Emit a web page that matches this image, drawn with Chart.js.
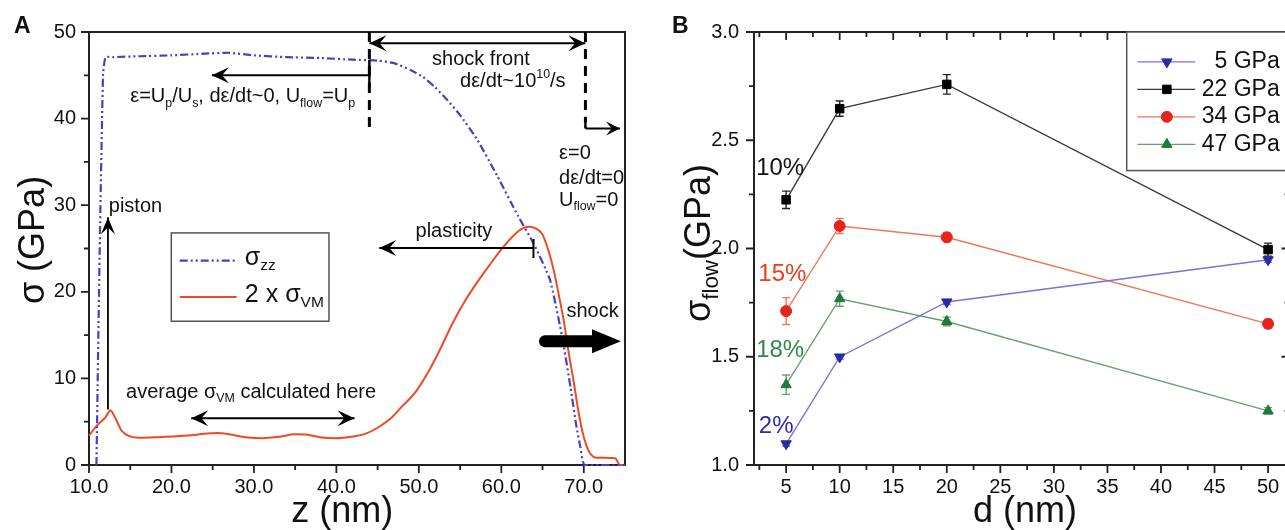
<!DOCTYPE html>
<html>
<head>
<meta charset="utf-8">
<script src="https://cdn.jsdelivr.net/npm/chart.js@4.4.1/dist/chart.umd.min.js"></script>
<style>
  html, body { margin: 0; padding: 0; background: #fff; overflow: hidden; }
  #wrap { position: relative; width: 1285px; height: 530px; overflow: hidden; }
  #pa { position: absolute; left: 0; top: 0; }
  #pb { position: absolute; left: 640px; top: 0; }
</style>
</head>
<body>
<div id="wrap">
  <canvas id="pa" width="640" height="530"></canvas>
  <canvas id="pb" width="700" height="530"></canvas>
</div>
<script>
const FONT = '"Liberation Sans", Arial, Helvetica, sans-serif';

// ---- panel A : stress profiles ----
const zZZ = [10.9, 11.3, 11.7, 12.0, 13, 16, 20, 24, 27, 30, 34, 38, 42, 45, 47, 49, 50.5, 52, 53.5, 55, 57, 59.5, 62, 63.9, 65.9, 67.4, 68.4, 69.1, 69.6, 70.1, 75];
const sigmaZZ = [0, 25, 45, 47.1, 47.1, 47.2, 47.3, 47.5, 47.6, 47.3, 47.1, 47.0, 46.8, 46.7, 46.4, 45.6, 44.8, 43.6, 42.1, 40.4, 37.7, 33.4, 28.8, 25.6, 21.4, 14.7, 8.9, 4.5, 2.0, 0, 0];

const zVM = [10, 11, 12, 12.6, 13.2, 14, 15, 16, 18, 20, 22, 24, 25.5, 27, 29, 31, 33, 35, 36.5, 38, 40, 42, 43.5, 45, 46.5, 48, 49.5, 51, 52.5, 54, 55.5, 57, 58.5, 60, 61.5, 62.5, 63.4, 64.2, 65.0, 65.8, 66.4, 67.0, 67.6, 68.2, 68.8, 69.3, 69.8, 70.3, 70.8, 71.5, 73.8, 74.4, 75];
const sigmaVM2 = [3.4, 4.6, 5.5, 6.3, 5.4, 3.9, 3.3, 3.15, 3.2, 3.3, 3.4, 3.6, 3.7, 3.55, 3.2, 3.1, 3.25, 3.55, 3.5, 3.2, 3.1, 3.3, 3.6, 4.3, 5.3, 6.8, 8.3, 10.5, 13.2, 16.2, 18.8, 21.0, 23.0, 24.9, 26.5, 27.3, 27.5, 27.3, 26.6, 24.5, 22.3, 19.5, 16.5, 12.8, 9.5, 6.5, 4.0, 2.3, 1.3, 0.85, 0.77, 0, 0];

const xTicksA = [10, 20, 30, 40, 50, 60, 70];
const xMinorA = [15, 25, 35, 45, 55, 65];
const yTicksA = [0, 10, 20, 30, 40, 50];
const yMinorA = [5, 15, 25, 35, 45];

// ---- panel B : flow stress vs grain size ----
const dNm = [5, 10, 20, 50];
const flow5 = [1.098, 1.499, 1.753, 1.948];
const err5 = [0.01, 0.01, 0.012, 0.012];
const flow22 = [2.225, 2.646, 2.758, 1.995];
const err22 = [0.04, 0.035, 0.045, 0.03];
const flow34 = [1.711, 2.104, 2.052, 1.652];
const err34 = [0.062, 0.035, 0.02, 0.02];
const flow47 = [1.371, 1.768, 1.663, 1.25];
const err47 = [0.045, 0.035, 0.02, 0.015];
const seriesNames = ['5 GPa', '22 GPa', '34 GPa', '47 GPa'];
const strainLabels = ['2%', '10%', '15%', '18%'];

const xTicksB = [5, 10, 15, 20, 25, 30, 35, 40, 45, 50];
const xMinorB = [2.5, 7.5, 12.5, 17.5, 22.5, 27.5, 32.5, 37.5, 42.5, 47.5];
const yTicksB = [1.0, 1.5, 2.0, 2.5, 3.0];
const yMinorB = [1.25, 1.75, 2.25, 2.75];

// ---------- helpers ----------
function rich(ctx, parts, x, y, size, align, color) {
  ctx.save();
  ctx.fillStyle = color || '#111';
  ctx.textBaseline = 'middle';
  ctx.textAlign = 'left';
  let w = 0;
  parts.forEach(p => {
    ctx.font = `${p[1] ? size * 0.62 : size}px ${FONT}`;
    w += ctx.measureText(p[0]).width;
  });
  let cx = align === 'center' ? x - w / 2 : align === 'right' ? x - w : x;
  parts.forEach(p => {
    const s = p[1] ? size * 0.62 : size;
    ctx.font = `${s}px ${FONT}`;
    const dy = p[1] === 1 ? size * 0.32 : p[1] === 2 ? -size * 0.36 : 0;
    ctx.fillText(p[0], cx, y + dy);
    cx += ctx.measureText(p[0]).width;
  });
  ctx.restore();
}

function head(ctx, x, y, ang, len, half) {
  ctx.save();
  ctx.translate(x, y);
  ctx.rotate(ang);
  ctx.beginPath();
  ctx.moveTo(0, 0);
  ctx.lineTo(-len, -half);
  ctx.lineTo(-len * 0.6, 0);
  ctx.lineTo(-len, half);
  ctx.closePath();
  ctx.fill();
  ctx.restore();
}

function arrow(ctx, x1, y1, x2, y2, both, lw, len, half) {
  ctx.save();
  ctx.strokeStyle = '#000';
  ctx.fillStyle = '#000';
  ctx.lineWidth = lw;
  ctx.beginPath();
  ctx.moveTo(x1, y1);
  ctx.lineTo(x2, y2);
  ctx.stroke();
  const a = Math.atan2(y2 - y1, x2 - x1);
  head(ctx, x2, y2, a, len, half);
  if (both) head(ctx, x1, y1, a + Math.PI, len, half);
  ctx.restore();
}

function frameAndTicks(chart, c) {
  const { ctx, chartArea: a, scales: { x, y } } = chart;
  ctx.save();
  ctx.strokeStyle = '#222';
  ctx.lineWidth = 2;
  ctx.strokeRect(a.left, a.top, a.right - a.left, a.bottom - a.top);
  ctx.lineWidth = 1.8;
  ctx.beginPath();
  const xt = (vals, len) => vals.forEach(v => {
    const px = x.getPixelForValue(v);
    ctx.moveTo(px, a.bottom); ctx.lineTo(px, a.bottom + len);
    if (c.mirror) { ctx.moveTo(px, a.top); ctx.lineTo(px, a.top + len); }
  });
  const yt = (vals, len) => vals.forEach(v => {
    const py = y.getPixelForValue(v);
    ctx.moveTo(a.left, py); ctx.lineTo(a.left - len, py);
    if (c.mirror) { ctx.moveTo(a.right, py); ctx.lineTo(a.right - len, py); }
  });
  xt(c.xMajor, 8); xt(c.xMinor, 5);
  yt(c.yMajor, 8); yt(c.yMinor, 5);
  ctx.stroke();
  ctx.restore();
}

// ---------- panel A ----------
const panelA = {
  id: 'panelA',
  beforeDatasetsDraw(chart) {
    frameAndTicks(chart, { xMajor: xTicksA, xMinor: xMinorA, yMajor: yTicksA, yMinor: yMinorA, mirror: false });
  },
  afterDraw(chart) {
    const { ctx, chartArea: a, scales: { x, y } } = chart;
    const X = v => x.getPixelForValue(v), Y = v => y.getPixelForValue(v);

    ctx.save();
    ctx.fillStyle = '#111';
    ctx.font = `bold 23px ${FONT}`;
    ctx.textBaseline = 'alphabetic';
    ctx.fillText('A', 14, 33);
    ctx.restore();

    // axis titles
    rich(ctx, [['z (nm)', 0]], X(40.7), 512, 36, 'center');
    ctx.save();
    ctx.translate(34, 240);
    ctx.rotate(-Math.PI / 2);
    rich(ctx, [['σ (GPa)', 0]], 0, 0, 36, 'center');
    ctx.restore();

    // legend box
    ctx.save();
    ctx.strokeStyle = '#555';
    ctx.lineWidth = 1.5;
    ctx.fillStyle = '#fff';
    const lx1 = X(19.98), lx2 = X(39.1), ly1 = Y(26.8), ly2 = Y(16.6);
    ctx.fillRect(lx1, ly1, lx2 - lx1, ly2 - ly1);
    ctx.strokeRect(lx1, ly1, lx2 - lx1, ly2 - ly1);
    ctx.lineWidth = 2.2;
    ctx.strokeStyle = '#4b3fbf';
    ctx.setLineDash([8, 3, 2, 3, 2, 3]);
    ctx.beginPath(); ctx.moveTo(X(21), Y(23.6)); ctx.lineTo(X(27.9), Y(23.6)); ctx.stroke();
    ctx.setLineDash([]);
    ctx.strokeStyle = '#ee4a23';
    ctx.lineWidth = 2;
    ctx.beginPath(); ctx.moveTo(X(21), Y(19.4)); ctx.lineTo(X(27.9), Y(19.4)); ctx.stroke();
    ctx.restore();
    rich(ctx, [['σ', 0], ['zz', 1]], X(28.9), Y(23.6) - 3, 25, 'left');
    rich(ctx, [['2 x σ', 0], ['VM', 1]], X(28.9), Y(19.4) - 2, 25, 'left');

    // top: shock front region
    ctx.save();
    ctx.strokeStyle = '#000';
    ctx.lineWidth = 3;
    ctx.setLineDash([10, 7]);
    ctx.beginPath();
    ctx.moveTo(X(44), Y(50)); ctx.lineTo(X(44), Y(38.9));
    ctx.moveTo(X(70.2), Y(50)); ctx.lineTo(X(70.2), Y(39.6));
    ctx.stroke();
    ctx.setLineDash([]);
    ctx.lineWidth = 2.5;
    ctx.beginPath();
    ctx.moveTo(X(44), Y(46.8)); ctx.lineTo(X(44), Y(43.6));
    ctx.moveTo(X(70.2), Y(40.2)); ctx.lineTo(X(70.2), Y(38.85));
    ctx.stroke();
    ctx.restore();
    arrow(ctx, X(44), Y(48.7), X(70.2), Y(48.7), true, 2, 17, 8);
    arrow(ctx, X(44), Y(45.0), X(24.9), Y(45.0), false, 2, 17, 8);
    arrow(ctx, X(70.2), Y(38.85), X(74.4), Y(38.85), false, 2, 14, 7);

    rich(ctx, [['shock front', 0]], X(51.6), Y(46.8), 20, 'left');
    rich(ctx, [['dε/dt~10', 0], ['10', 2], ['/s', 0]], X(55.0), Y(44.3), 20, 'left');
    rich(ctx, [['ε=U', 0], ['p', 1], ['/U', 0], ['s', 1], [', dε/dt~0, U', 0], ['flow', 1], ['=U', 0], ['p', 1]], X(15.0), Y(42.5), 20, 'left');
    rich(ctx, [['ε=0', 0]], X(67.0), Y(36.0), 20, 'left');
    rich(ctx, [['dε/dt=0', 0]], X(67.0), Y(33.1), 20, 'left');
    rich(ctx, [['U', 0], ['flow', 1], ['=0', 0]], X(67.0), Y(30.3) - 2, 20, 'left');

    // piston
    arrow(ctx, X(12.3), Y(6.4), X(12.3), Y(28.6), false, 1.8, 17, 7);
    rich(ctx, [['piston', 0]], X(12.4), Y(29.9), 20, 'left');

    // averaging window
    rich(ctx, [['average σ', 0], ['VM', 1], [' calculated here', 0]], X(14.5), Y(8.4), 20, 'left');
    arrow(ctx, X(22.4), Y(5.4), X(42.2), Y(5.4), true, 2, 17, 8);

    // plasticity
    rich(ctx, [['plasticity', 0]], X(49.6), Y(27.0), 20, 'left');
    arrow(ctx, X(63.9), Y(25.06), X(45.2), Y(25.06), false, 2, 17, 8);
    ctx.save();
    ctx.lineWidth = 2;
    ctx.beginPath(); ctx.moveTo(X(63.9), Y(26.1)); ctx.lineTo(X(63.9), Y(23.9)); ctx.stroke();
    ctx.restore();

    // shock
    rich(ctx, [['shock', 0]], X(67.9), Y(17.7), 20, 'left');
    ctx.save();
    ctx.strokeStyle = '#000';
    ctx.fillStyle = '#000';
    ctx.lineWidth = 12;
    ctx.lineCap = 'round';
    ctx.beginPath(); ctx.moveTo(X(65.3), Y(14.3)); ctx.lineTo(X(71.6), Y(14.3)); ctx.stroke();
    ctx.beginPath();
    ctx.moveTo(X(74.5), Y(14.3));
    ctx.lineTo(X(71.0), Y(14.3) - 12);
    ctx.lineTo(X(71.0), Y(14.3) + 12);
    ctx.closePath();
    ctx.fill();
    ctx.restore();
  }
};

new Chart(document.getElementById('pa'), {
  type: 'line',
  data: {
    datasets: [
      {
        label: 'σzz',
        data: zZZ.map((z, i) => ({ x: z, y: sigmaZZ[i] })),
        borderColor: '#4b3fbf',
        borderWidth: 2.2,
        borderDash: [8, 3, 2, 3, 2, 3],
        pointRadius: 0,
        tension: 0.15,
        clip: false
      },
      {
        label: '2 x σVM',
        data: zVM.map((z, i) => ({ x: z, y: sigmaVM2[i] })),
        borderColor: '#ee4a23',
        borderWidth: 2,
        pointRadius: 0,
        cubicInterpolationMode: 'monotone',
        clip: false
      }
    ]
  },
  options: {
    responsive: false,
    animation: false,
    devicePixelRatio: 1,
    events: [],
    layout: { padding: { top: 32, right: 15, left: 0, bottom: 0 } },
    plugins: { legend: { display: false }, tooltip: { enabled: false } },
    scales: {
      x: {
        type: 'linear', min: 10, max: 75,
        afterFit: s => { s.height = 65; },
        afterBuildTicks: s => { s.ticks = xTicksA.map(v => ({ value: v })); },
        grid: { display: false, drawTicks: false },
        border: { display: false },
        ticks: { padding: 10, autoSkip: false, maxRotation: 0, color: '#111', font: { family: FONT, size: 20 }, callback: v => Number(v).toFixed(1) }
      },
      y: {
        type: 'linear', min: 0, max: 50,
        afterFit: s => { s.width = 89; },
        afterBuildTicks: s => { s.ticks = yTicksA.map(v => ({ value: v })); },
        grid: { display: false, drawTicks: false },
        border: { display: false },
        ticks: { padding: 13, autoSkip: false, color: '#111', font: { family: FONT, size: 20 }, callback: v => String(v) }
      }
    }
  },
  plugins: [panelA]
});

// ---------- panel B ----------
const seriesB = [
  { name: seriesNames[0], vals: flow5, err: err5, line: '#7a72d8', mark: '#2c2aa0', style: 'triangle', rot: 180, r: 6 },
  { name: seriesNames[1], vals: flow22, err: err22, line: '#3a3a3a', mark: '#000000', style: 'rect', rot: 0, r: 6 },
  { name: seriesNames[2], vals: flow34, err: err34, line: '#f07658', mark: '#e8231b', style: 'circle', rot: 0, r: 5.5 },
  { name: seriesNames[3], vals: flow47, err: err47, line: '#6c9e76', mark: '#1e7a3c', style: 'triangle', rot: 0, r: 6 }
];

function point(ctx, s, x, y) {
  ctx.save();
  ctx.fillStyle = s.mark;
  ctx.strokeStyle = s.mark;
  const o = { pointStyle: s.style, rotation: s.rot, radius: s.r, borderWidth: 1 };
  if (Chart.helpers && Chart.helpers.drawPoint) {
    Chart.helpers.drawPoint(ctx, o, x, y);
  } else {
    ctx.beginPath(); ctx.arc(x, y, s.r, 0, Math.PI * 2); ctx.fill();
  }
  ctx.restore();
}

const panelB = {
  id: 'panelB',
  beforeDatasetsDraw(chart) {
    frameAndTicks(chart, { xMajor: xTicksB, xMinor: xMinorB, yMajor: yTicksB, yMinor: yMinorB, mirror: true });
    const { ctx, scales: { x, y } } = chart;
    // error bars
    seriesB.forEach(s => {
      ctx.save();
      ctx.strokeStyle = s.line === '#3a3a3a' ? '#222' : s.line;
      ctx.lineWidth = 1.4;
      ctx.beginPath();
      dNm.forEach((d, i) => {
        const px = x.getPixelForValue(d);
        const top = y.getPixelForValue(s.vals[i] + s.err[i]);
        const bot = y.getPixelForValue(s.vals[i] - s.err[i]);
        ctx.moveTo(px, top); ctx.lineTo(px, bot);
        ctx.moveTo(px - 4, top); ctx.lineTo(px + 4, top);
        ctx.moveTo(px - 4, bot); ctx.lineTo(px + 4, bot);
      });
      ctx.stroke();
      ctx.restore();
    });
  },
  afterDraw(chart) {
    const { ctx, chartArea: a, scales: { x, y } } = chart;
    const X = v => x.getPixelForValue(v), Y = v => y.getPixelForValue(v);

    ctx.save();
    ctx.fillStyle = '#111';
    ctx.font = `bold 23px ${FONT}`;
    ctx.fillText('B', 32, 33);
    ctx.restore();

    rich(ctx, [['d (nm)', 0]], X(27.3), 512, 36, 'center');
    ctx.save();
    ctx.translate(60, 243);
    ctx.rotate(-Math.PI / 2);
    rich(ctx, [['σ', 0], ['flow', 1], ['(GPa)', 0]], 0, 0, 36, 'center');
    ctx.restore();

    // strain labels
    const labCol = ['#2f2ba8', '#111', '#e8401c', '#2d8a48'];
    const labPos = [[2.45, 1.178], [2.2, 2.37], [2.4, 1.88], [2.2, 1.53]];
    strainLabels.forEach((t, i) => rich(ctx, [[t, 0]], X(labPos[i][0]), Y(labPos[i][1]), 24, 'left', labCol[i]));

    // legend
    ctx.save();
    const bx = X(36.8), by = a.top, bb = Y(2.36);
    ctx.fillStyle = '#fff';
    ctx.fillRect(bx, by, 700 - bx, bb - by);
    ctx.strokeStyle = '#555';
    ctx.lineWidth = 1.5;
    ctx.strokeRect(bx, by, 720 - bx, bb - by);
    ctx.restore();
    const rows = [2.862, 2.735, 2.608, 2.481];
    seriesB.forEach((s, i) => {
      const ry = Y(rows[i]);
      ctx.save();
      ctx.strokeStyle = s.line;
      ctx.lineWidth = 1.4;
      ctx.beginPath(); ctx.moveTo(X(37.8), ry); ctx.lineTo(X(43.2), ry); ctx.stroke();
      ctx.restore();
      point(ctx, s, X(40.55), ry);
      const label = s.name.length < 6 ? '\u2007' + s.name : s.name;
      rich(ctx, [[label, 0]], X(43.8), ry, 23, 'left', '#111');
    });
  }
};

new Chart(document.getElementById('pb'), {
  type: 'line',
  data: {
    datasets: seriesB.map(s => ({
      label: s.name,
      data: dNm.map((d, i) => ({ x: d, y: s.vals[i] })),
      borderColor: s.line,
      borderWidth: 1.4,
      pointStyle: s.style,
      pointRotation: s.rot,
      pointRadius: s.r,
      pointBackgroundColor: s.mark,
      pointBorderColor: s.mark,
      pointBorderWidth: 1,
      tension: 0,
      clip: false
    }))
  },
  options: {
    responsive: false,
    animation: false,
    devicePixelRatio: 1,
    events: [],
    layout: { padding: { top: 32, right: 50.5, left: 0, bottom: 0 } },
    plugins: { legend: { display: false }, tooltip: { enabled: false } },
    scales: {
      x: {
        type: 'linear', min: 2, max: 52,
        afterFit: s => { s.height = 65; },
        afterBuildTicks: s => { s.ticks = xTicksB.map(v => ({ value: v })); },
        grid: { display: false, drawTicks: false },
        border: { display: false },
        ticks: { padding: 10, autoSkip: false, maxRotation: 0, color: '#111', font: { family: FONT, size: 20 }, callback: v => String(v) }
      },
      y: {
        type: 'linear', min: 1, max: 3,
        afterFit: s => { s.width = 114; },
        afterBuildTicks: s => { s.ticks = yTicksB.map(v => ({ value: v })); },
        grid: { display: false, drawTicks: false },
        border: { display: false },
        ticks: { padding: 15, autoSkip: false, color: '#111', font: { family: FONT, size: 20 }, callback: v => Number(v).toFixed(1) }
      }
    }
  },
  plugins: [panelB]
});
</script>
</body>
</html>
